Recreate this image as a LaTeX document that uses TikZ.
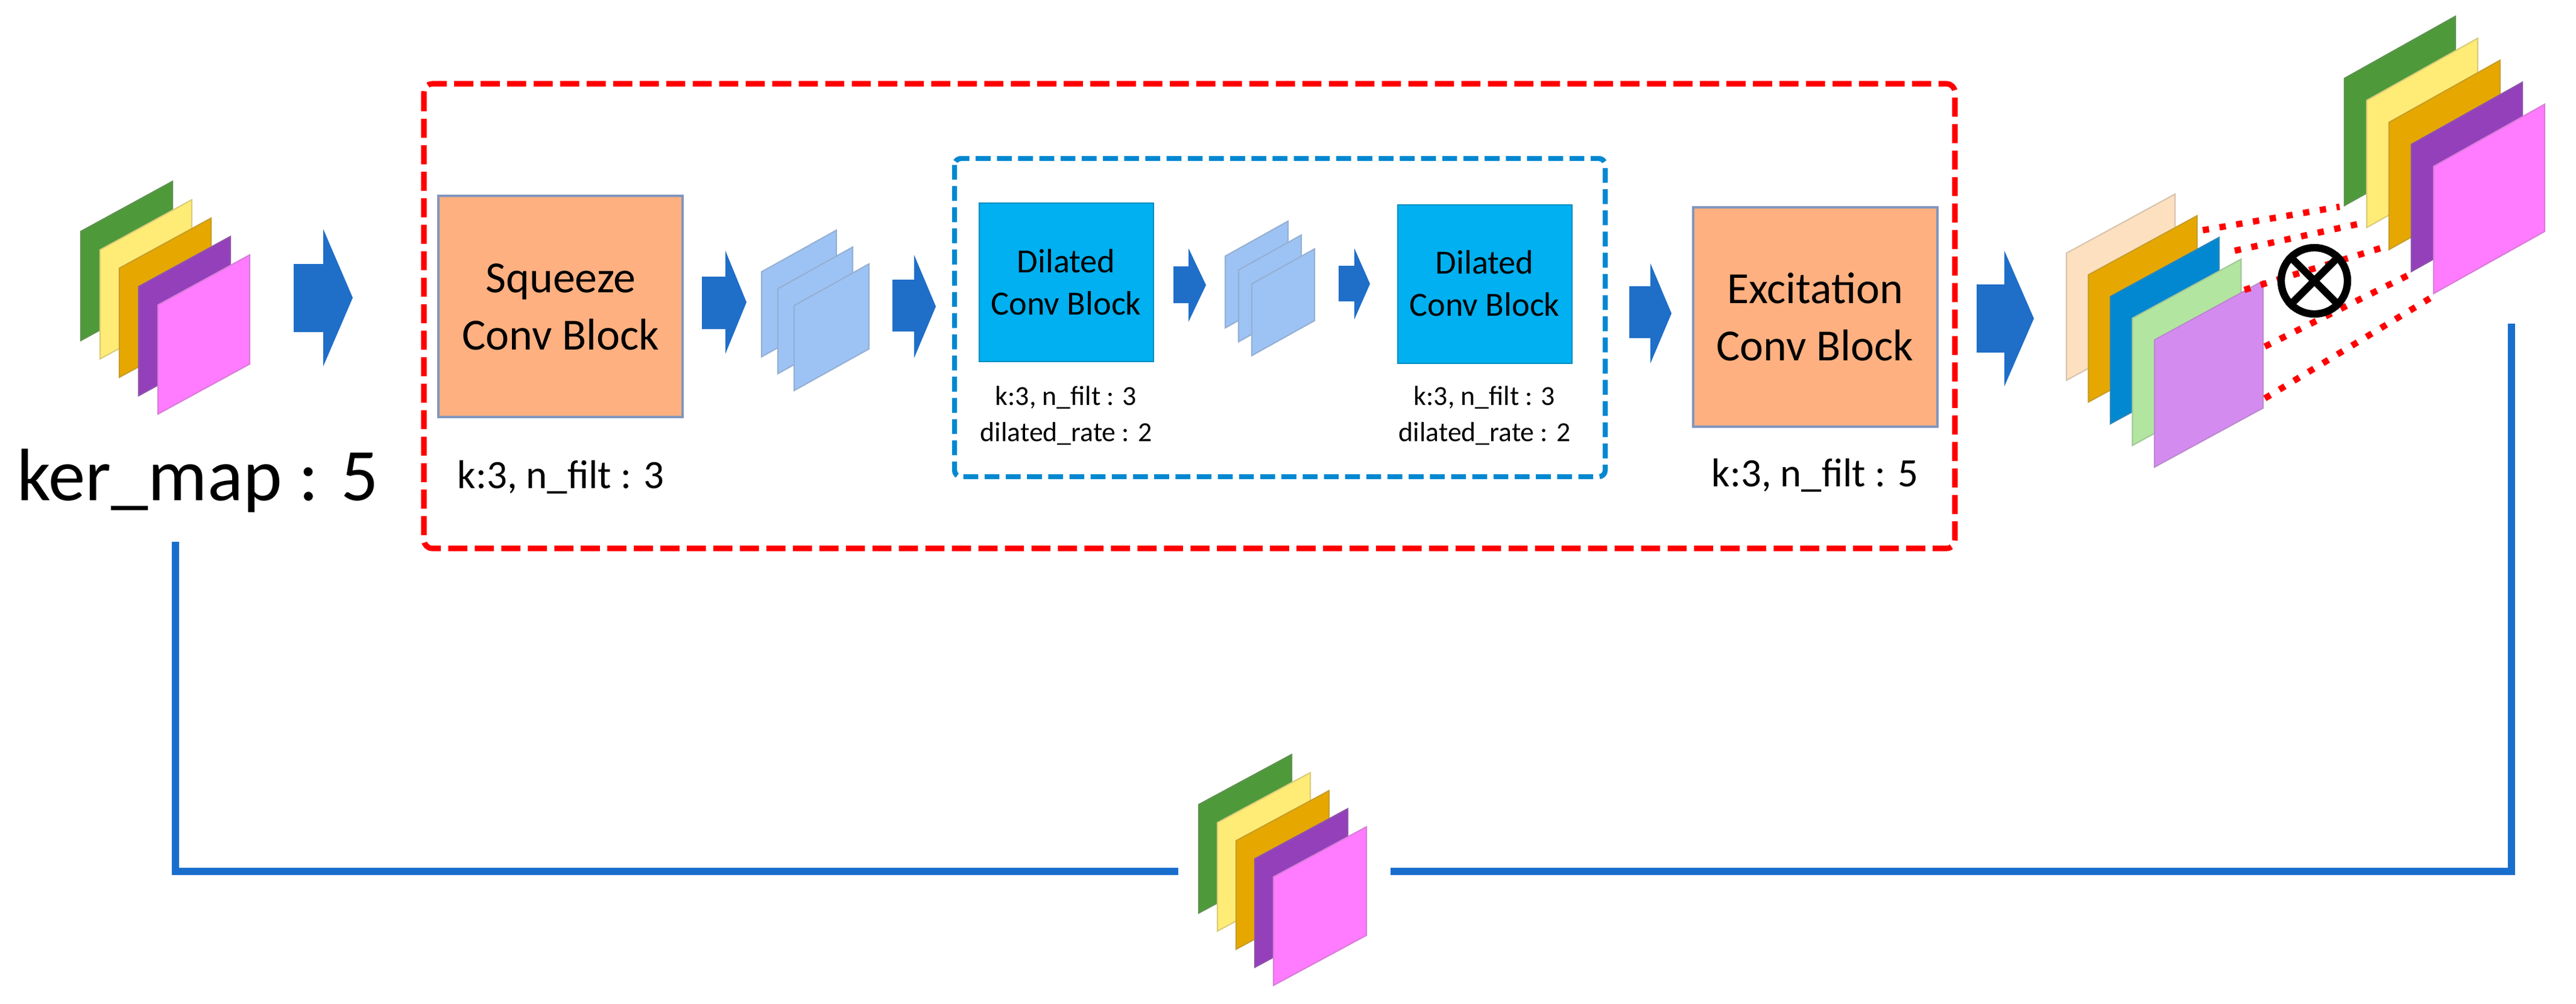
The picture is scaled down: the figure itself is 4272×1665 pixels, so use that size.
\documentclass[tikz,border=0pt]{standalone}
\usepackage{fontspec}
\setmainfont{Carlito}
\begin{document}
\begin{tikzpicture}[x=0.01cm,y=-0.01cm,
  sheet/.style={draw=#1!70!gray,line width=0.6pt,fill=#1},
  barrow/.style={fill=arrowblue,draw=none},
  block/.style={draw=boxedge,line width=1pt,fill=#1},
  lbl/.style={font=\fontsize{19}{22}\selectfont,anchor=base},
  slbl/.style={font=\fontsize{13}{17}\selectfont,align=center},
  link/.style={draw=linkblue,line width=3.5pt},
  dots/.style={draw=red,line width=3pt,dash pattern=on 3pt off 5pt}]
\definecolor{arrowblue}{RGB}{31,110,200}
\definecolor{linkblue}{RGB}{25,110,205}
\definecolor{boxedge}{RGB}{130,150,190}
\definecolor{sqz}{RGB}{255,176,128}
\definecolor{dil}{RGB}{0,176,240}
\definecolor{fm}{RGB}{157,195,245}
\definecolor{cgreen}{RGB}{78,154,58}
\definecolor{cyellow}{RGB}{255,236,118}
\definecolor{corange}{RGB}{230,168,0}
\definecolor{cpurple}{RGB}{148,64,187}
\definecolor{cpink}{RGB}{255,123,255}
\definecolor{cpeach}{RGB}{253,224,192}
\definecolor{cblue}{RGB}{2,136,209}
\definecolor{clgreen}{RGB}{178,230,160}
\definecolor{clav}{RGB}{212,139,240}
% #1 x, #2 y top-left, #3 w, #4 h, #5 rise, #6 color
\newcommand\mysheet[6]{\path[sheet=#6] (#1,#2) -- ({#1+#3},{#2-#5}) -- ({#1+#3},{#2-#5+#4}) -- (#1,{#2+#4}) -- cycle;}
% block arrow: #1 x0, #2 head base x, #3 tip x, #4 tail top, #5 tail bottom, #6 head top, #7 head bottom
\newcommand\myarrow[7]{\path[barrow] (#1,#4) -- (#2,#4) -- (#2,#6) -- (#3,{(#6+#7)/2}) -- (#2,#7) -- (#2,#5) -- (#1,#5) -- cycle;}
\useasboundingbox (0,0) rectangle (4272,1665);

% input stack
\foreach \i/\c in {0/cgreen,1/cyellow,2/corange,3/cpurple,4/cpink}
  {\mysheet{134+32*\i}{384+30.5*\i}{152}{181}{83}{\c}}
\node[font=\fontsize{35}{40}\selectfont,anchor=base] (ker) at (328,830) {ker\_map : 5};

% red and blue dashed frames
\draw[red,line width=2.6pt,dash pattern=on 9pt off 3.5pt,rounded corners=4pt] (703,139) rectangle (3242,910);
\draw[cblue,line width=2.4pt,dash pattern=on 7pt off 3pt,rounded corners=3pt] (1583,263) rectangle (2662,791);

% arrows
\myarrow{487}{536}{585}{438}{551}{380}{608}
\myarrow{1164}{1203}{1238}{459}{546}{416}{587}
\myarrow{1480}{1516}{1552}{464}{550}{423}{594}
\myarrow{1946}{1971}{2000}{442}{503}{412}{534}
\myarrow{2220}{2246}{2272}{441}{500}{412}{530}
\myarrow{2702}{2737}{2772}{475}{561}{437}{603}
\myarrow{3278}{3324}{3373}{472}{585}{416}{641}

% blocks
\path[block=sqz] (727,325) rectangle (1132,692);
\node[font=\fontsize{21}{27}\selectfont,align=center] (sqt) at (930,509) {Squeeze\\Conv Block};
\node[lbl] (sql) at (930,810) {k:3, n\_filt : 3};

\path[block=sqz] (2808,344) rectangle (3213,708);
\node[font=\fontsize{21}{27}\selectfont,align=center] (ext) at (3010,526) {Excitation\\Conv Block};
\node[lbl] (exl) at (3010,807) {k:3, n\_filt : 5};

\path[fill=dil,draw=dil!80!black,line width=0.5pt] (1624,337) rectangle (1913,600);
\node[font=\fontsize{16}{20}\selectfont,align=center] (d1) at (1768,468) {Dilated\\Conv Block};
\node[slbl] (d1l) at (1768,690) {k:3, n\_filt : 3\\dilated\_rate : 2};
\path[fill=dil,draw=dil!80!black,line width=0.5pt] (2318,340) rectangle (2607,603);
\node[font=\fontsize{16}{20}\selectfont,align=center] (d2) at (2462,470) {Dilated\\Conv Block};
\node[slbl] (d2l) at (2462,690) {k:3, n\_filt : 3\\dilated\_rate : 2};

% small feature stacks
\foreach \i in {0,1,2}
  {\mysheet{1263+27*\i}{451+28*\i}{124}{141}{69}{fm}}
\foreach \i in {0,1,2}
  {\mysheet{2032+22*\i}{425+23*\i}{104}{119}{58}{fm}}

% output left stack
\foreach \i/\c in {0/cpeach,1/corange,2/cblue,3/clgreen,4/clav}
  {\mysheet{3427+36.5*\i}{420+36*\i}{180}{211}{98}{\c}}
% output right stack
\foreach \i/\c in {0/cgreen,1/cyellow,2/corange,3/cpurple,4/cpink}
  {\mysheet{3888+37*\i}{130+36.5*\i}{184}{211}{103}{\c}}

% dotted links
\coordinate (a1) at (3653,382); \coordinate (b1) at (3880,343);
\coordinate (a2) at (3706,416); \coordinate (b2) at (3923,369);
\coordinate (a3) at (3722,481); \coordinate (b3) at (3957,409);
\coordinate (a4) at (3756,575); \coordinate (b4) at (3997,455);
\coordinate (a5) at (3756,661); \coordinate (b5) at (4038,490);
\foreach \k in {1,...,5} {\draw[dots] (a\k) -- (b\k);}
\node[circle,draw=black,line width=3.5pt,inner sep=0,minimum size=1.1cm] (ot) at (3838,466) {};
\draw[line width=3.5pt] (ot.north west) -- (ot.south east) (ot.north east) -- (ot.south west);

% bottom stack
\foreach \i/\c in {0/cgreen,1/cyellow,2/corange,3/cpurple,4/cpink}
  {\mysheet{1988+31*\i}{1335+30*\i}{154}{180}{83}{\c}}
\node[inner sep=0,minimum width=3.5cm,minimum height=3.2cm] (bs) at (2130,1440) {};

% skip connection
\coordinate (s0) at (291,899);
\coordinate (s1) at (291,1446);
\coordinate (e0) at (4165,537);
\coordinate (e1) at (4165,1446);
\draw[link] (s0) -- (s1) -- (bs.west |- s1);
\draw[link] (bs.east |- e1) -- (e1) -- (e0);
\end{tikzpicture}
\end{document}
